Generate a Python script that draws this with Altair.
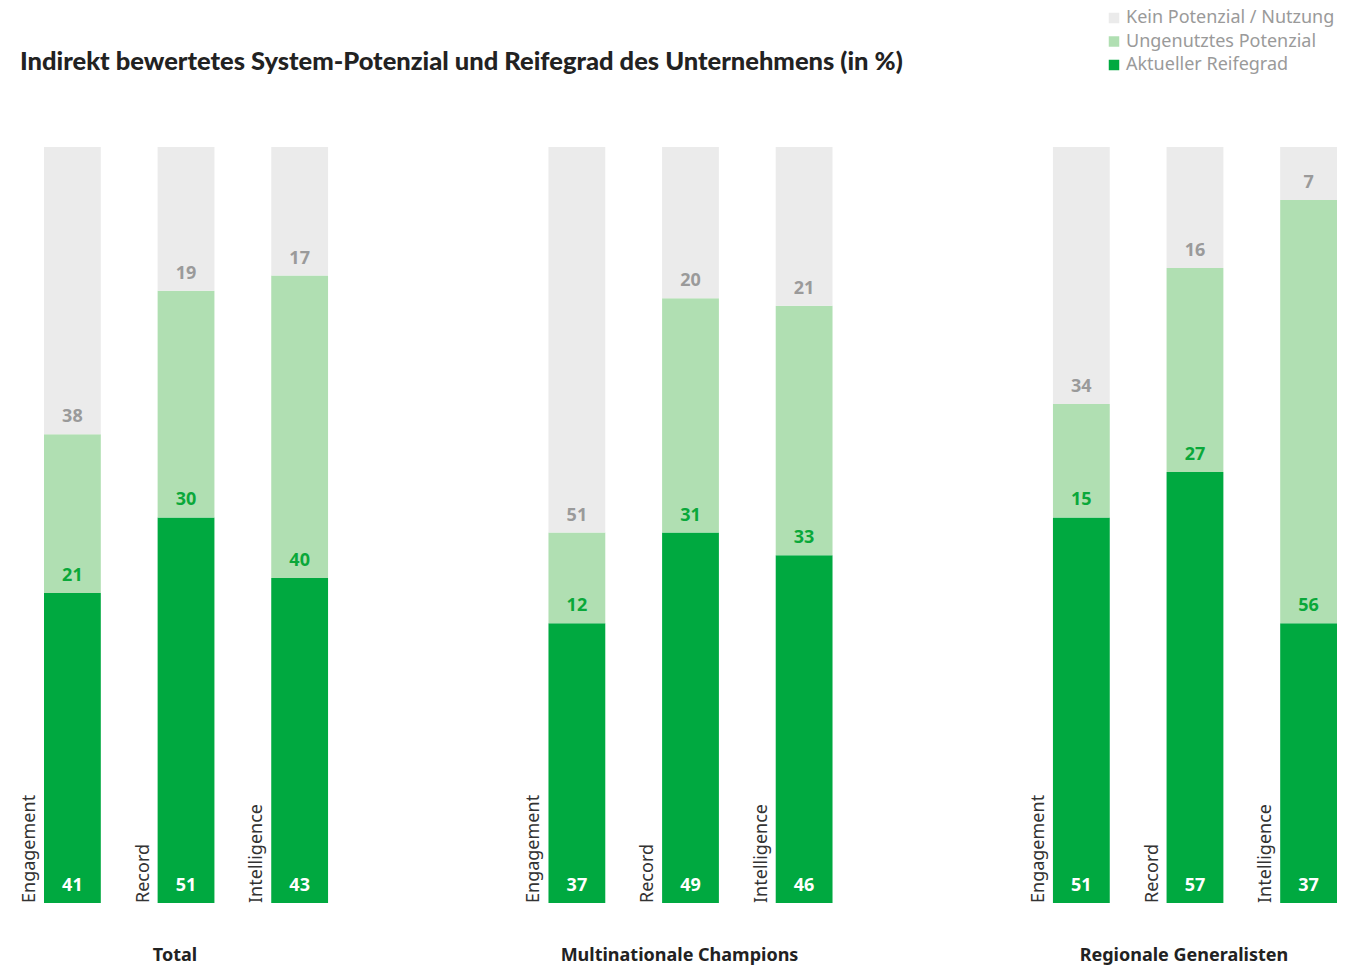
import altair as alt
import pandas as pd

groups = ["Total", "Multinationale Champions", "Regionale Generalisten"]
categories = ["Engagement", "Record", "Intelligence"]
series = ["Aktueller Reifegrad", "Ungenutztes Potenzial", "Kein Potenzial / Nutzung"]

aktuell = [41, 51, 43, 37, 49, 46, 51, 57, 37]
ungenutzt = [21, 30, 40, 12, 31, 33, 15, 27, 56]
kein = [38, 19, 17, 51, 20, 21, 34, 16, 7]

title_text = "Indirekt bewertetes System-Potenzial und Reifegrad des Unternehmens (in %)"

# layout: bar step = 1 unit, bar width = 0.5 unit, group step = 4.44 units
GROUP_STEP = 4.44
BAR_W = 0.5

colors = ["#00a940", "#b0dfb2", "#ebebeb"]
label_colors = ["#ffffff", "#0aa83a", "#9a9a9a"]

rows = []
cat_rows = []
for i in range(9):
    gi, ci = i // 3, i % 3
    pos = gi * GROUP_STEP + ci
    vals = [aktuell[i], ungenutzt[i], kein[i]]
    start = 0
    for k, v in enumerate(vals):
        rows.append({"pos": pos, "pos2": pos + BAR_W, "mid": pos + BAR_W / 2,
                     "series": series[k], "value": v, "start": start,
                     "end": start + v, "lcolor": label_colors[k]})
        start += v
    cat_rows.append({"pos": pos, "mid": pos + BAR_W / 2, "cat": categories[ci],
                     "group": groups[gi], "center": ci == 1})

df = pd.DataFrame(rows)
cdf = pd.DataFrame(cat_rows)
gdf = cdf[cdf["center"]]
tdf = pd.DataFrame({"t": [title_text]})

W, H = 1293, 756
FONT = "Noto Sans"

x_scale = alt.Scale(domain=[0, 2 * GROUP_STEP + 2 + BAR_W], nice=False, zero=False)
y_scale = alt.Scale(domain=[0, 100], nice=False)

bars = alt.Chart(df).mark_bar().encode(
    x=alt.X("pos:Q", scale=x_scale, axis=None),
    x2="pos2:Q",
    y=alt.Y("start:Q", scale=y_scale, axis=None),
    y2="end:Q",
    color=alt.Color(
        "series:N",
        scale=alt.Scale(domain=series[::-1], range=colors[::-1]),
        legend=alt.Legend(
            title=None, orient="none", legendX=1061, legendY=-138,
            symbolType="square", symbolSize=110, symbolStrokeWidth=0,
            labelFont=FONT, labelFontSize=18, labelColor="#9a9a9a",
            labelLimit=400, rowPadding=5.5, padding=0, symbolOffset=0,
            labelOffset=3,
        ),
    ),
)

labels = alt.Chart(df).mark_text(
    font=FONT, fontSize=18, fontWeight="bold", baseline="middle", dy=-17
).encode(
    x=alt.X("mid:Q", scale=x_scale),
    y=alt.Y("start:Q", scale=y_scale),
    text="value:Q",
    color=alt.Color("lcolor:N", scale=None),
)

cat_labels = alt.Chart(cdf).mark_text(
    font=FONT, fontSize=18, angle=270, align="left", baseline="bottom",
    dy=-5, color="#333333"
).encode(
    x=alt.X("pos:Q", scale=x_scale),
    y=alt.value(H),
    text="cat:N",
)

group_labels = alt.Chart(gdf).mark_text(
    font=FONT, fontSize=18, fontWeight="bold", baseline="middle", dx=-11,
    color="#222222"
).encode(
    x=alt.X("mid:Q", scale=x_scale),
    y=alt.value(H + 53),
    text="group:N",
)

title = alt.Chart(tdf).mark_text(
    font="Lato", fontSize=25.5, fontWeight=900, align="left", baseline="middle",
    color="#222222"
).encode(
    x=alt.value(-24),
    y=alt.value(-85),
    text="t:N",
)

chart = alt.layer(bars, labels, cat_labels, group_labels, title).properties(
    width=W, height=H,
).configure_view(stroke=None).properties(
    autosize=alt.AutoSizeParams(type="none"),
    padding={"left": 36, "top": 139, "right": 18, "bottom": 62},
)

chart.save("out.html", embed_options={"renderer": "svg", "actions": False})
